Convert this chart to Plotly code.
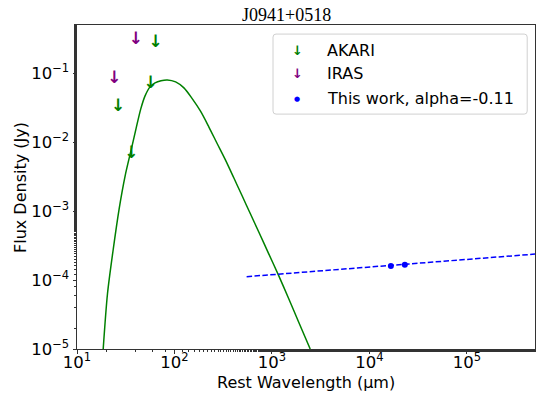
import plotly.graph_objects as go

# ---- data ----
akari_wl = [26.4, 36.1, 56.9, 64.2]          # rest wavelength (um)
akari_flux = [0.0321, 0.00684, 0.070, 0.272]  # upper limits (Jy)

iras_wl = [24.2, 40.1]
iras_flux = [0.0841, 0.304]

work_wl = [16600, 23100]
work_flux = [1.60e-4, 1.67e-4]

fit_wl = [550, 5.0e5]            # power-law fit, alpha=-0.11
fit_flux = [1.12e-4, 2.38e-4]

model_wl = [18.57, 20.55, 23.5, 27.07, 31.18, 36.16, 40.4, 45.12, 49.92, 56.17,
            63.18, 72.78, 84.4, 102.8, 125, 152, 185, 225, 274, 334, 406, 493,
            601, 731, 925, 1170, 1480, 1874, 2470]
model_flux = [1.0e-5, 6.33e-5, 2.75e-4, 1.08e-3, 3.25e-3, 8.0e-3, 1.585e-2,
              3.04e-2, 4.69e-2, 6.33e-2, 7.23e-2, 7.78e-2, 7.99e-2,
              7.48e-2, 6.12e-2, 4.28e-2, 2.81e-2, 1.67e-2, 9.55e-3, 5.48e-3,
              3.04e-3, 1.68e-3, 9.14e-4, 5.01e-4, 2.42e-4, 1.17e-4, 5.44e-5,
              2.49e-5, 1.0e-5]

x_tickvals = [1e1, 1e2, 1e3, 1e4, 1e5]
x_ticktext = ["10<sup>1</sup>", "10<sup>2</sup>", "10<sup>3</sup>",
              "10<sup>4</sup>", "10<sup>5</sup>"]
y_tickvals = [1e-5, 1e-4, 1e-3, 1e-2, 1e-1]
y_ticktext = ["10<sup>\u22125</sup>", "10<sup>\u22124</sup>", "10<sup>\u22123</sup>",
              "10<sup>\u22122</sup>", "10<sup>\u22121</sup>"]

legend_labels = ["AKARI", "IRAS", "This work, alpha=-0.11"]
title_text = "J0941+0518"

GREEN = "#008000"
PURPLE = "#800080"
BLUE = "#0000ff"
FONT = "DejaVu Sans"

fig = go.Figure()

fig.add_trace(go.Scatter(x=model_wl, y=model_flux, mode="lines",
                         line=dict(color=GREEN, width=1.5, shape="spline", smoothing=0.8),
                         showlegend=False, hoverinfo="skip"))
fig.add_trace(go.Scatter(x=fit_wl, y=fit_flux, mode="lines",
                         line=dict(color=BLUE, width=1.5, dash="5.5px,2.4px"),
                         showlegend=False))
fig.add_trace(go.Scatter(x=akari_wl, y=akari_flux, mode="text",
                         text=["<b>↓</b>"] * len(akari_wl),
                         textposition="middle center",
                         textfont=dict(family=FONT, size=17, color=GREEN),
                         showlegend=False))
fig.add_trace(go.Scatter(x=iras_wl, y=iras_flux, mode="text",
                         text=["<b>↓</b>"] * len(iras_wl),
                         textposition="middle center",
                         textfont=dict(family=FONT, size=17, color=PURPLE),
                         showlegend=False))
fig.add_trace(go.Scatter(x=work_wl, y=work_flux, mode="markers",
                         marker=dict(color=BLUE, size=6),
                         showlegend=False))

# ---- manual legend (matplotlib style) ----
x0, x1, y0, y1 = 0.428, 0.983, 0.725, 0.972
rx, ry = 0.0066, 0.0093
path = (f"M{x0+rx},{y0} L{x1-rx},{y0} Q{x1},{y0} {x1},{y0+ry} "
        f"L{x1},{y1-ry} Q{x1},{y1} {x1-rx},{y1} L{x0+rx},{y1} "
        f"Q{x0},{y1} {x0},{y1-ry} L{x0},{y0+ry} Q{x0},{y0} {x0+rx},{y0} Z")
fig.add_shape(type="path", path=path, xref="paper", yref="paper",
              line=dict(color="#d0d0d0", width=1), fillcolor="rgba(255,255,255,0.8)")

rows_y = [0.922, 0.851, 0.772]
sym_text = ["<b>↓</b>", "<b>↓</b>", "●"]
sym_col = [GREEN, PURPLE, BLUE]
sym_size = [13, 13, 7]
annotations = []
for lab, yy, st, sc, ss in zip(legend_labels, rows_y, sym_text, sym_col, sym_size):
    annotations.append(dict(x=0.481, y=yy, xref="paper", yref="paper",
                            text=st, showarrow=False, xanchor="center", yanchor="middle",
                            font=dict(family=FONT, size=ss, color=sc)))
    annotations.append(dict(x=0.541, y=yy, xref="paper", yref="paper",
                            text=lab, showarrow=False, xanchor="left", yanchor="middle",
                            font=dict(family=FONT, size=16, color="black")))

annotations.append(dict(x=0.457, y=1.0, xref="paper", yref="paper", text=title_text,
                        showarrow=False, xanchor="center", yanchor="bottom", yshift=-2,
                        font=dict(family="Liberation Serif", size=18, color="black")))
annotations.append(dict(x=0.5, y=-0.102, xref="paper", yref="paper",
                        text="Rest Wavelength (µm)", showarrow=False,
                        xanchor="center", yanchor="middle",
                        font=dict(family=FONT, size=16, color="black")))
annotations.append(dict(x=-0.1245, y=0.5, xref="paper", yref="paper",
                        text="Flux Density (Jy)", showarrow=False, textangle=-90,
                        xanchor="center", yanchor="middle",
                        font=dict(family=FONT, size=16, color="black")))

axis_common = dict(type="log", showgrid=False, zeroline=False, showline=True, mirror=True,
                   linecolor="#333333", linewidth=1,
                   ticks="outside", ticklen=3.5, tickwidth=1, tickcolor="#333333",
                   tickfont=dict(family=FONT, size=16.5, color="black"),
                   minor=dict(ticks="outside", ticklen=2, tickwidth=0.8,
                              tickcolor="#333333", showgrid=False))

fig.update_layout(
    width=544, height=400,
    margin=dict(l=77, r=9, t=25, b=51),
    paper_bgcolor="white", plot_bgcolor="white",
    showlegend=False,
    xaxis=dict(range=[1, 5.699], tickmode="array", tickvals=x_tickvals,
               ticktext=x_ticktext, ticklabelstandoff=-5, **axis_common),
    yaxis=dict(range=[-5, -0.301], tickmode="array", tickvals=y_tickvals,
               ticktext=y_ticktext, **axis_common),
    annotations=annotations,
)

fig.write_html("out.html")
